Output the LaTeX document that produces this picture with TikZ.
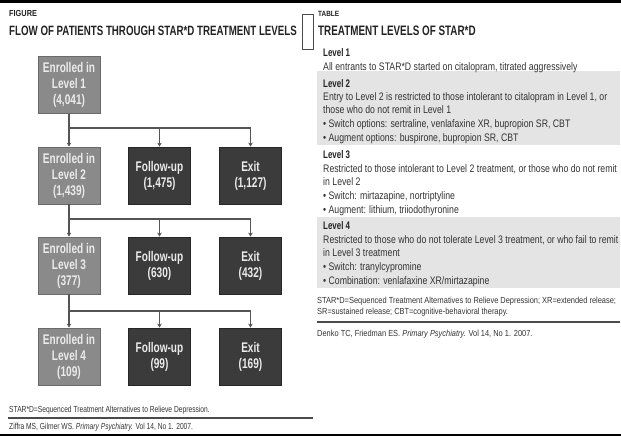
\documentclass[tikz,border=0pt]{standalone}
\usepackage{fontspec}
\usetikzlibrary{arrows.meta}
\setmainfont{Liberation Sans}
\newfontfamily\figfont[FakeStretch=0.72]{Liberation Sans}
\newfontfamily\tabfont[FakeStretch=0.8]{Liberation Sans}
\newfontfamily\notefont[FakeStretch=0.845]{Liberation Sans}
\newfontfamily\fignotefont[FakeStretch=0.76]{Liberation Sans}
\definecolor{headtext}{HTML}{222222}
\definecolor{bodytext}{HTML}{333333}
\definecolor{enrolledfill}{HTML}{8A8A8A}
\definecolor{enrolledline}{HTML}{6A6A6A}
\definecolor{outcomefill}{HTML}{3B3B3B}
\definecolor{outcomeline}{HTML}{262626}
\definecolor{flowline}{HTML}{555555}
\definecolor{bandgray}{HTML}{E4E4E4}
\definecolor{rulegray}{HTML}{4A4A4A}
\tikzset{
 enrolled/.style={draw=enrolledline, fill=enrolledfill, text=white!92!black, line width=0.8pt,
   minimum width=62pt, minimum height=57pt, inner sep=0pt, align=center,
   font=\figfont\bfseries\fontsize{14}{16}\selectfont},
 outcome/.style={enrolled, draw=outcomeline, fill=outcomefill},
 flow/.style={draw=flowline, line width=1.2pt},
 flowarrow/.style={flow, -{Stealth[length=4pt,width=4.5pt]}},
 figlabel/.style={anchor=base west, inner sep=0pt, text=headtext},
 levelhead/.style={anchor=base west, inner sep=0pt, text=headtext, font=\figfont\bfseries\fontsize{11}{13}\selectfont},
 levelbody/.style={anchor=north west, inner sep=0pt, align=left, text=bodytext, font=\tabfont\fontsize{10.9}{13.6}\selectfont},
 note/.style={anchor=base west, inner sep=0pt, text=bodytext, font=\notefont\fontsize{8.8}{11}\selectfont},
 fignote/.style={note, font=\fignotefont\fontsize{8.8}{11}\selectfont},
 band/.style={fill=bandgray, draw=none},
 rule/.style={draw=rulegray, line width=2pt}
}
\begin{document}
\begin{tikzpicture}[x=1pt,y=-1pt]
 \useasboundingbox (0,0) rectangle (621,436);
 \fill[black] (0,0) rectangle (621,3);
 \fill[black] (0,433.5) rectangle (621,436);
 % figure heading
 \node[figlabel, font=\notefont\bfseries\fontsize{8.7}{10}\selectfont] (figword) at (9,17) {FIGURE};
 \node[figlabel, font=\figfont\bfseries\fontsize{13.5}{16}\selectfont] (figtitle) at (9,36) {FLOW OF PATIENTS THROUGH STAR*D TREATMENT LEVELS};
 \draw[draw=rulegray, line width=0.8pt] (302,14) rectangle (313,49);
 % flow chart
 \node[enrolled] (enr1) at (69,85) {Enrolled in\\Level 1\\(4,041)};
 \node[enrolled] (enr2) at (69,175.5) {Enrolled in\\Level 2\\(1,439)};
 \node[outcome] (fol2) at (159.5,175.5) {Follow-up\\(1,475)};
 \node[outcome] (exit2) at (250.5,175.5) {Exit\\(1,127)};
 \node[enrolled] (enr3) at (69,265.5) {Enrolled in\\Level 3\\(377)};
 \node[outcome] (fol3) at (159.5,265.5) {Follow-up\\(630)};
 \node[outcome] (exit3) at (250.5,265.5) {Exit\\(432)};
 \node[enrolled] (enr4) at (69,356.5) {Enrolled in\\Level 4\\(109)};
 \node[outcome] (fol4) at (159.5,356.5) {Follow-up\\(99)};
 \node[outcome] (exit4) at (250.5,356.5) {Exit\\(169)};
 \coordinate (split1) at (69,128);
 \coordinate (split2) at (69,219);
 \coordinate (split3) at (69,311);
 \draw[flow] (enr1.south) -- (split1);
 \draw[flowarrow] (split1) -- (enr2.north);
 \draw[flowarrow] (split1) -| (fol2.north);
 \draw[flowarrow] (split1) -| (exit2.north);
 \draw[flow] (enr2.south) -- (split2);
 \draw[flowarrow] (split2) -- (enr3.north);
 \draw[flowarrow] (split2) -| (fol3.north);
 \draw[flowarrow] (split2) -| (exit3.north);
 \draw[flow] (enr3.south) -- (split3);
 \draw[flowarrow] (split3) -- (enr4.north);
 \draw[flowarrow] (split3) -| (fol4.north);
 \draw[flowarrow] (split3) -| (exit4.north);
 % figure notes
 \node[fignote] (starnote) at (9,412) {STAR*D=Sequenced Treatment Alternatives to Relieve Depression.};
 \draw[rule] (8,418) -- (313,418);
 \node[fignote] (figcite) at (9,429) {Ziffra MS, Gilmer WS. \textit{Primary Psychiatry.} Vol 14, No 1. 2007.};
 % table heading
 \node[figlabel, font=\notefont\bfseries\fontsize{7.6}{10}\selectfont] (tabword) at (318,17) {TABLE};
 \node[figlabel, font=\figfont\bfseries\fontsize{13.7}{16}\selectfont] (tabtitle) at (318,36) {TREATMENT LEVELS OF STAR*D};
 % table rows
 \fill[band] (317,71) rectangle (620,145);
 \fill[band] (317,217) rectangle (620,288);
 \node[levelhead] (head1) at (323,57) {Level 1};
 \node[levelbody] (body1) at (323,60.5) {\strut All entrants to STAR*D started on citalopram, titrated aggressively};
 \node[levelhead] (head2) at (323,87) {Level 2};
 \node[levelbody] (body2) at (323,90.5) {\strut Entry to Level 2 is restricted to those intolerant to citalopram in Level 1, or\\those who do not remit in Level 1\\\textbullet\ Switch options: sertraline, venlafaxine XR, bupropion SR, CBT\\\textbullet\ Augment options: buspirone, bupropion SR, CBT};
 \node[levelhead] (head3) at (323,158) {Level 3};
 \node[levelbody] (body3) at (323,162.5) {\strut Restricted to those intolerant to Level 2 treatment, or those who do not remit\\in Level 2\\\textbullet\ Switch: mirtazapine, nortriptyline\\\textbullet\ Augment: lithium, triiodothyronine};
 \node[levelhead] (head4) at (323,229) {Level 4};
 \node[levelbody] (body4) at (323,233.5) {\strut Restricted to those who do not tolerate Level 3 treatment, or who fail to remit\\in Level 3 treatment\\\textbullet\ Switch: tranylcypromine\\\textbullet\ Combination: venlafaxine XR/mirtazapine};
 % table notes
 \node[note] (tabnote1) at (317,303) {STAR*D=Sequenced Treatment Alternatives to Relieve Depression; XR=extended release;};
 \node[note] (tabnote2) at (317,314) {SR=sustained release; CBT=cognitive-behavioral therapy.};
 \draw[rule] (317,322) -- (620,322);
 \node[note] (tabcite) at (317,336) {Denko TC, Friedman ES. \textit{Primary Psychiatry.} Vol 14, No 1. 2007.};
\end{tikzpicture}
\end{document}
